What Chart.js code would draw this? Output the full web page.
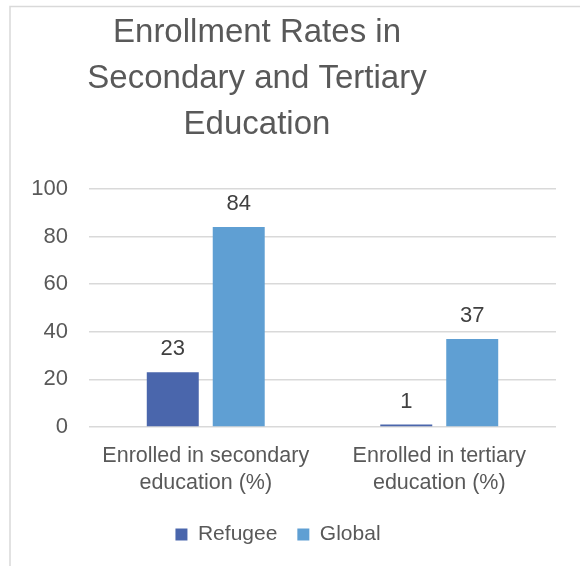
<!DOCTYPE html>
<html>
<head>
<meta charset="utf-8">
<script src="https://cdn.jsdelivr.net/npm/chart.js@4"></script>
<style>
  html, body { margin: 0; padding: 0; background: #fff; }
  #wrap { width: 580px; height: 566px; }
</style>
</head>
<body>
<div id="wrap"><canvas id="enrollChart" width="580" height="566"></canvas></div>
<script>
const categories = [
  ['Enrolled in secondary', 'education (%)'],
  ['Enrolled in tertiary', 'education (%)']
];
const refugeeValues = [23, 1];
const globalValues = [84, 37];
const titleLines = ['Enrollment Rates in', 'Secondary and Tertiary', 'Education'];

Chart.defaults.font.family = '"Liberation Sans", Arial, sans-serif';
Chart.defaults.color = '#595959';

// value labels above each bar
const barValues = {
  id: 'barValues',
  afterDatasetsDraw(chart) {
    const ctx = chart.ctx;
    ctx.save();
    ctx.font = '22px "Liberation Sans", Arial, sans-serif';
    ctx.fillStyle = '#404040';
    ctx.textAlign = 'center';
    ctx.textBaseline = 'alphabetic';
    chart.data.datasets.forEach((ds, i) => {
      chart.getDatasetMeta(i).data.forEach((bar, j) => {
        ctx.fillText(ds.data[j], bar.x, bar.y - 17);
      });
    });
    ctx.restore();
  }
};

// light frame around the chart, plus title offset
const frame = {
  id: 'frame',
  afterLayout(chart) {
    chart.titleBlock.left -= 21;
    chart.titleBlock.right -= 21;
  },
  beforeDraw(chart) {
    const ctx = chart.ctx;
    ctx.save();
    ctx.strokeStyle = '#d9d9d9';
    ctx.lineWidth = 1.5;
    ctx.beginPath();
    ctx.moveTo(10, 566);
    ctx.lineTo(10, 6.5);
    ctx.lineTo(580, 6.5);
    ctx.stroke();
    ctx.restore();
  }
};

new Chart(document.getElementById('enrollChart'), {
  type: 'bar',
  data: {
    labels: categories,
    datasets: [{
      label: 'Refugee',
      data: refugeeValues,
      backgroundColor: '#4a66ac',
      barPercentage: 0.788,
      categoryPercentage: 0.565
    }, {
      label: 'Global',
      data: globalValues,
      backgroundColor: '#5f9fd3',
      barPercentage: 0.788,
      categoryPercentage: 0.565
    }]
  },
  options: {
    responsive: false,
    animation: false,
    layout: { padding: { left: 0, right: 24, top: 0, bottom: 11 } },
    plugins: {
      title: {
        display: true,
        text: titleLines,
        color: '#595959',
        font: { size: 33, weight: 'normal', lineHeight: '46px' },
        padding: { top: 10, bottom: 41 }
      },
      legend: {
        position: 'bottom',
        labels: {
          boxWidth: 12,
          boxHeight: 12,
          padding: 20,
          color: '#595959',
          font: { size: 21 }
        }
      },
      tooltip: { enabled: false }
    },
    scales: {
      x: {
        grid: { display: false },
        border: { display: false },
        ticks: {
          color: '#595959',
          font: { size: 21.5, lineHeight: '27px' },
          padding: 8,
          maxRotation: 0,
          autoSkip: false
        },
        afterFit(scale) { scale.height -= 1; }
      },
      y: {
        min: 0,
        max: 100,
        border: { display: false },
        grid: { color: '#d9d9d9', lineWidth: 1.5, drawTicks: false },
        ticks: {
          stepSize: 20,
          color: '#595959',
          font: { size: 22 },
          padding: 21
        },
        afterFit(scale) { scale.width = 89; }
      }
    }
  },
  plugins: [barValues, frame]
});
</script>
</body>
</html>
